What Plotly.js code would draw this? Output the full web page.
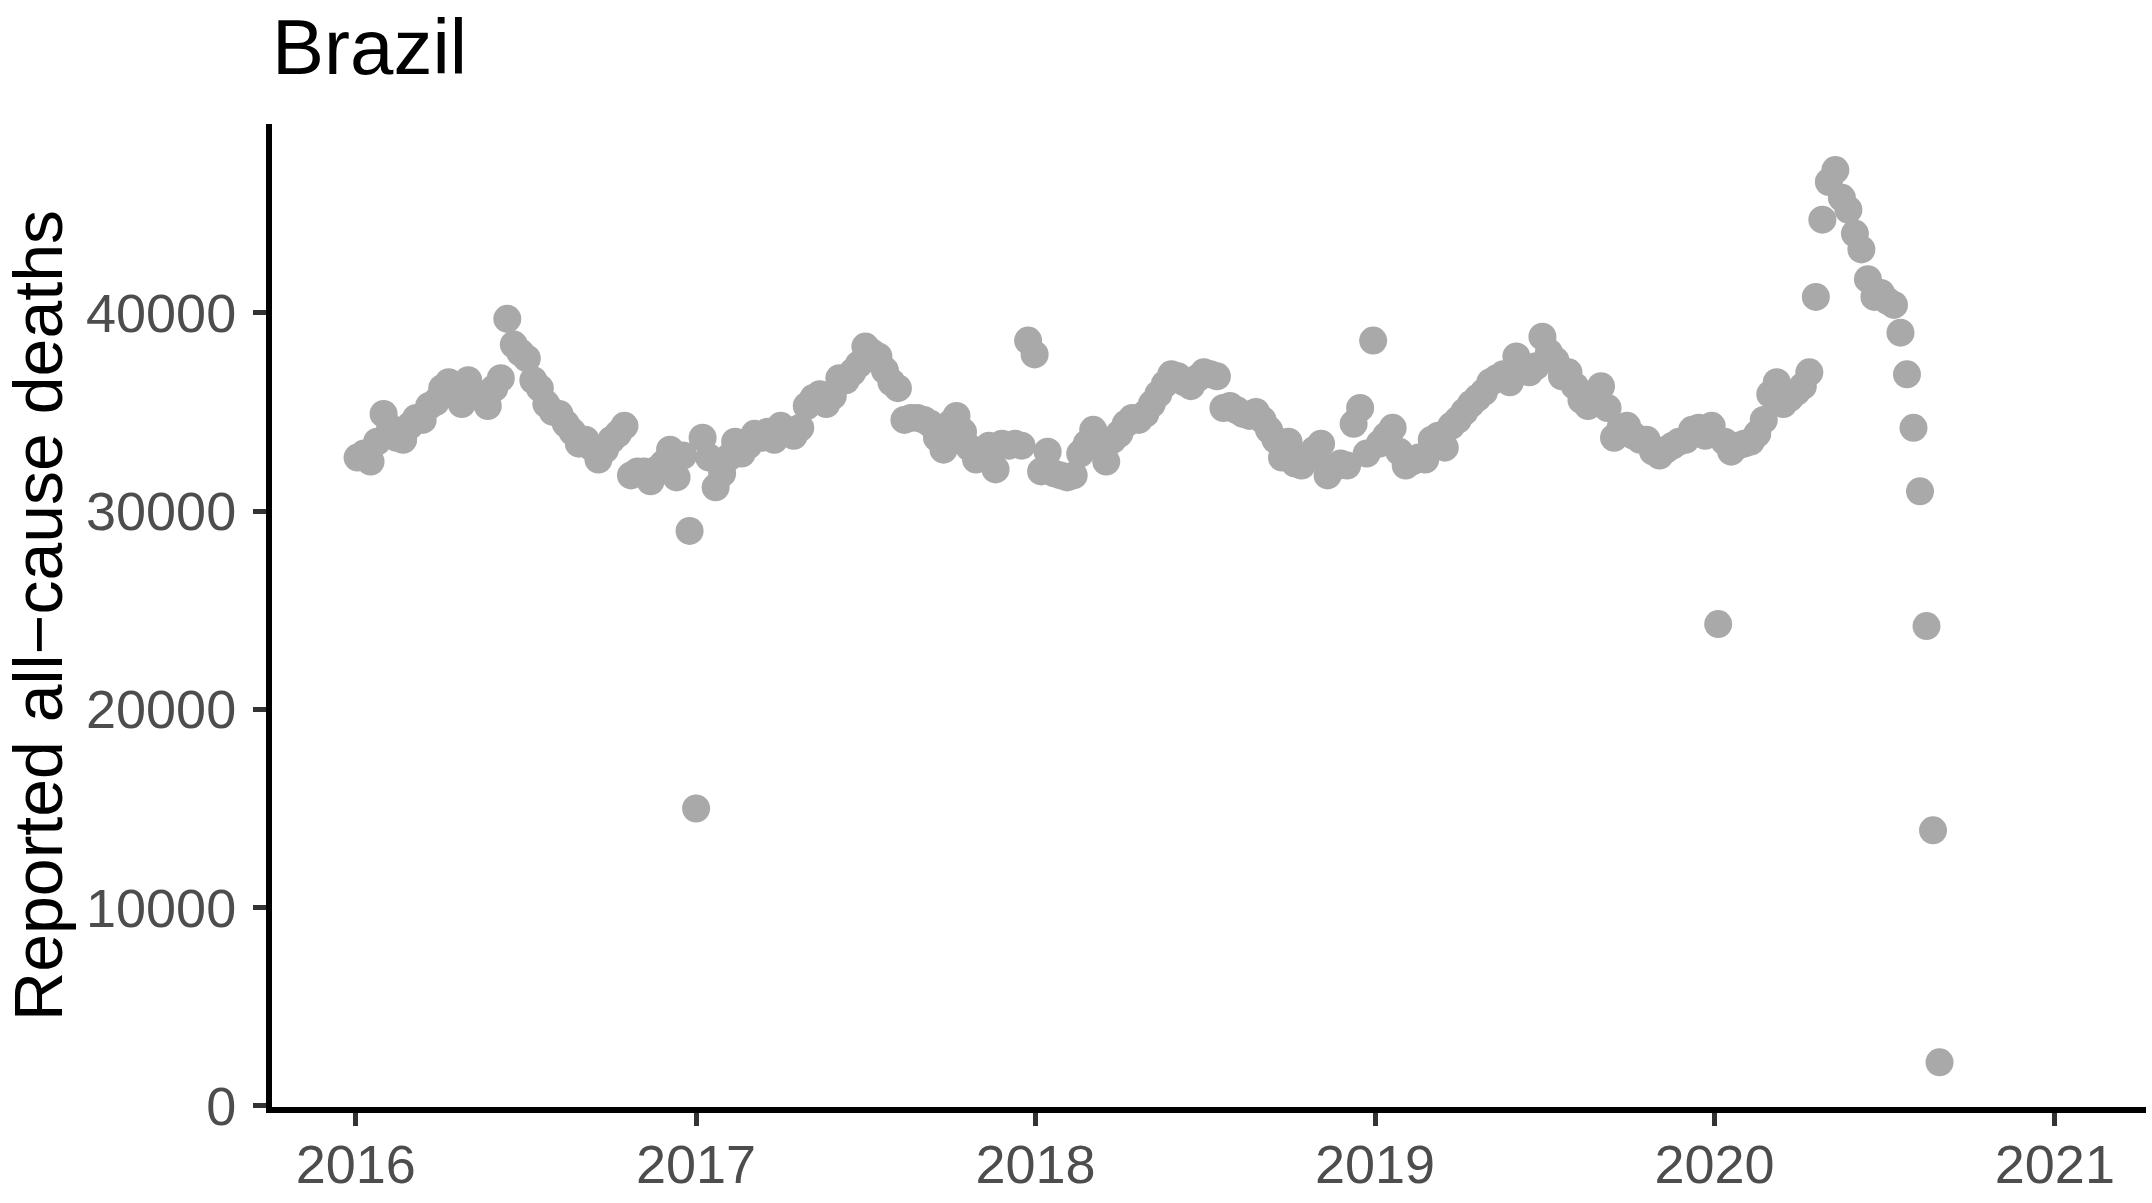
<!DOCTYPE html>
<html>
<head>
<meta charset="utf-8">
<script src="https://cdn.plot.ly/plotly-3.0.1.min.js"></script>
<style>
  html, body { margin: 0; padding: 0; background: #fff; }
  #myDiv { width: 2152px; height: 1203px; }
</style>
</head>
<body>
<div id="myDiv"></div>
<script>
// weekly reported all-cause deaths, Brazil, weeks starting 2016-01-03
const startDate = '2016-01-03';

const deaths2016 = [
    32700, 32900, 32500, 33500, 34900, 34200, 33700, 33600, 34300, 34700,
    34600, 35300, 35500, 36200, 36500, 36000, 35400, 36600, 35800, 35900,
    35300, 36200, 36700, 39700, 38400, 38000, 37700, 36600, 36200, 35400,
    35000, 34900, 34400, 34000, 33400, 33600, 33200, 32600, 33100, 33600,
    33900, 34300, 31800, 32000, 32000, 31500, 32100, 32400, 33100, 31700,
    32800, 29000
];
const deaths2017 = [
    15000, 33700, 32700, 31200, 31900, 32700, 33500, 32900, 33300, 33900,
    33700, 34000, 33600, 34300, 34100, 33800, 34200, 35300, 35700, 35900,
    35400, 35800, 36700, 36600, 37000, 37400, 38300, 38000, 37800, 37100,
    36500, 36200, 34600, 34700, 34700, 34600, 34400, 33700, 33100, 34400,
    34800, 34000, 33200, 32600, 32800, 33300, 32100, 33400, 33300, 33400,
    33300, 38600
];
const deaths2018 = [
    37900, 32000, 33000, 31900, 31800, 31700, 31800, 32900, 33400, 34100,
    33200, 32500, 33600, 33900, 34400, 34700, 34600, 34900, 35400, 35900,
    36400, 36900, 36800, 36500, 36300, 36700, 37000, 36900, 36800, 35200,
    35300, 35100, 34900, 34800, 35000, 34600, 34100, 33600, 32700, 33500,
    32400, 32300, 32700, 33100, 33400, 31800, 32200, 32400, 32300, 34400,
    35200, 32900
];
const deaths2019 = [
    38600, 33400, 33800, 34200, 33000, 32300, 32500, 32700, 32600, 33600,
    33800, 33200, 34300, 34600, 35000, 35400, 35700, 36000, 36500, 36700,
    36900, 36500, 37800, 37200, 37000, 37300, 38800, 38000, 37600, 36800,
    37000, 36300, 35600, 35300, 35900, 36300, 35200, 33700, 34200, 34300,
    33800, 33600, 33600, 33000, 32800, 33100, 33300, 33500, 33600, 34100,
    34200, 33800
];
const deaths2020 = [
    34300, 24300, 33500, 33000, 33300, 33400, 33500, 33900, 34600, 35900,
    36500, 35400, 35700, 36000, 36300, 37000, 40800, 44700, 46600, 47200,
    45800, 45200, 44000, 43200, 41700, 40800, 41000, 40600, 40400, 39000,
    36900, 34200, 31000, 24200, 13900, 2200
];

const yTicks = [0, 10000, 20000, 30000, 40000];

const deaths = [].concat(deaths2016, deaths2017, deaths2018, deaths2019, deaths2020);
const weeks = deaths.map((d, i) => {
    const t = new Date(startDate + 'T00:00:00Z');
    t.setUTCDate(t.getUTCDate() + 7 * i);
    return t.toISOString().slice(0, 10);
});

const font = 'Liberation Sans, Arial, sans-serif';

var data = [
    {
        x: weeks,
        y: deaths,
        type: 'scatter',
        mode: 'markers',
        marker: { size: 28, color: '#a9a9a9', line: { width: 0 } },
        hoverinfo: 'none'
    }
];

var layout = {
    width: 2152,
    height: 1203,
    paper_bgcolor: '#fff',
    plot_bgcolor: '#fff',
    margin: { l: 272, r: 6, t: 124, b: 96 },
    showlegend: false,
    title: {
        text: 'Brazil',
        font: { family: font, size: 78, color: '#000' },
        xref: 'container', x: 272 / 2152, xanchor: 'left',
        yref: 'container', y: 1 - 47 / 1203, yanchor: 'middle'
    },
    xaxis: {
        type: 'date',
        range: ['2015-10-03', '2021-04-09'],
        tick0: '2016-01-01',
        dtick: 'M12',
        tickformat: '%Y',
        showgrid: false,
        zeroline: false,
        showline: true,
        linecolor: '#000',
        linewidth: 6,
        ticks: 'outside',
        ticklen: 13,
        tickwidth: 5,
        tickcolor: '#333',
        ticklabelstandoff: -8,
        tickfont: { family: font, size: 54, color: '#4d4d4d' }
    },
    yaxis: {
        range: [-54, 49524],
        tickvals: yTicks,
        tickformat: 'd',
        showgrid: false,
        zeroline: false,
        showline: true,
        linecolor: '#000',
        linewidth: 6,
        ticks: 'outside',
        ticklen: 13,
        tickwidth: 5,
        tickcolor: '#333',
        ticklabelstandoff: 6,
        tickfont: { family: font, size: 54, color: '#4d4d4d' },
        title: {
            text: 'Reported all\u2212cause deaths',
            font: { family: font, size: 68, color: '#000' },
            standoff: 28
        }
    }
};

Plotly.newPlot('myDiv', data, layout, { staticPlot: true });
</script>
</body>
</html>
